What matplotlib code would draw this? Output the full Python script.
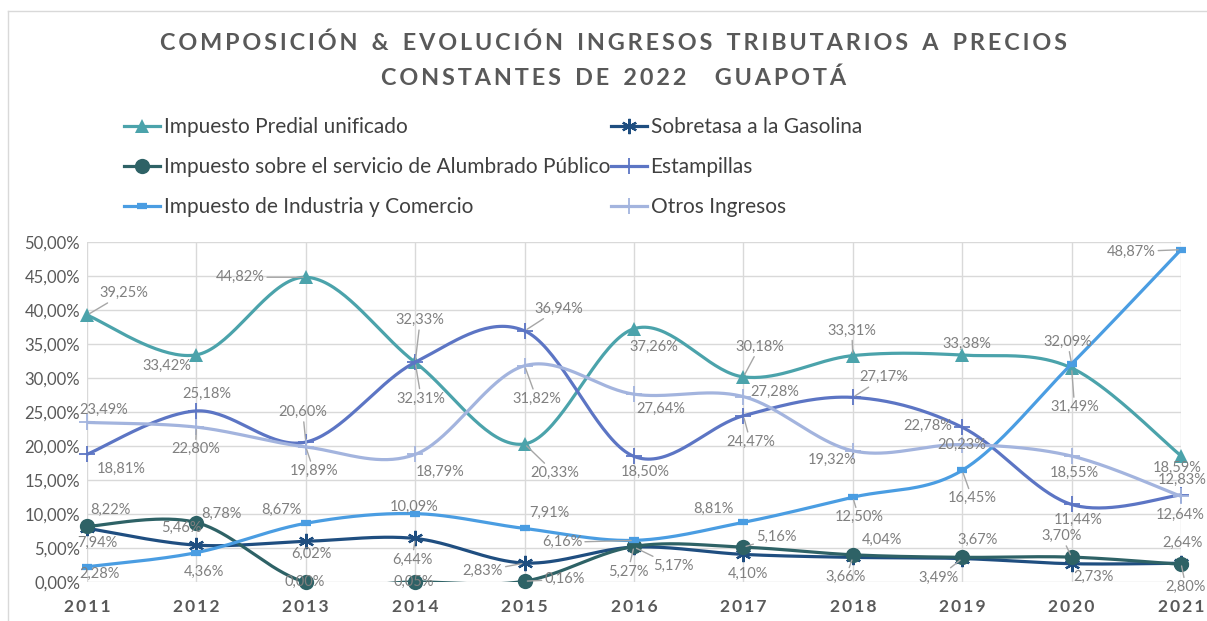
import numpy as np
import matplotlib
matplotlib.use('Agg')
import matplotlib.pyplot as plt
from matplotlib.lines import Line2D

plt.rcParams['font.family'] = ['Lato', 'DejaVu Sans']

# data
years = [2011, 2012, 2013, 2014, 2015, 2016, 2017, 2018, 2019, 2020, 2021]
predial = [39.25, 33.42, 44.82, 32.31, 20.33, 37.26, 30.18, 33.31, 33.38, 31.49, 18.59]
sobretasa = [7.94, 5.46, 6.02, 6.44, 2.83, 5.17, 4.10, 3.66, 3.49, 2.73, 2.80]
alumbrado = [8.22, 8.78, 0.00, 0.05, 0.16, 5.27, 5.16, 4.04, 3.67, 3.70, 2.64]
estampillas = [18.81, 25.18, 20.60, 32.33, 36.94, 18.50, 24.47, 27.17, 22.78, 11.44, 12.83]
ica = [2.28, 4.36, 8.67, 10.09, 7.91, 6.16, 8.81, 12.50, 16.45, 32.09, 48.87]
otros = [23.49, 22.80, 19.89, 18.79, 31.82, 27.64, 27.28, 19.32, 20.23, 18.55, 12.64]

names = ['Impuesto Predial unificado', 'Sobretasa a la Gasolina',
         'Impuesto sobre el servicio de Alumbrado Público', 'Estampillas',
         'Impuesto de Industria y Comercio', 'Otros Ingresos']
yticks = [0, 5, 10, 15, 20, 25, 30, 35, 40, 45, 50]

# label offsets (pixels, screen: +x right, +y down) and whether a leader line is drawn
lbl_off = {
    'predial': [(37, -22), (-30, 11), (-66, 0), (6, 36), (30, 29), (20, 18), (16, -30),
                (-1, -25), (5, -11), (3, 39), (-4, 12)],
    'sobretasa': [(10, 15), (-15, -17), (6, 13), (-3, 21), (-42, 8), (39, 19), (5, 19),
                  (-7, 20), (-24, 19), (22, 13), (5, 24)],
    'alumbrado': [(23, -16), (25, -9), (-1, 0), (-1, 0), (40, -2), (-6, 25), (33, -10),
                  (29, -15), (15, -17), (-10, -21), (2, -21)],
    'estampillas': [(34, 15), (10, -17), (-3, -30), (5, -42), (34, -22), (11, 16), (7, 26),
                    (31, -20), (-34, -1), (7, 15), (1, -15)],
    'ica': [(13, 7), (8, 19), (-24, -13), (-1, -7), (25, -16), (-72, 2), (-30, -13),
            (6, 20), (10, 28), (-4, -22), (-50, 2)],
    'otros': [(17, -13), (-1, 22), (8, 24), (25, 17), (12, 33), (27, 15), (31, -5),
              (-21, 9), (0, 0), (3, 17), (-1, 19)],
}
leader = {
    'predial': [1, 0, 1, 1, 1, 0, 1, 1, 0, 1, 0],
    'sobretasa': [0, 0, 0, 1, 1, 1, 0, 1, 1, 0, 1],
    'alumbrado': [0, 0, 0, 0, 1, 1, 1, 0, 0, 1, 0],
    'estampillas': [0, 0, 1, 1, 1, 0, 1, 1, 0, 0, 0],
    'ica': [0, 0, 0, 0, 0, 1, 0, 1, 1, 1, 1],
    'otros': [0, 1, 1, 0, 1, 0, 0, 0, 0, 0, 0],
}


def smooth(x, y, n=40):
    # Excel-like smoothed line: cubic bezier with catmull-rom control points
    p = np.column_stack([x, y]).astype(float)
    ext = np.vstack([p[0], p, p[-1]])
    out = []
    t = np.linspace(0, 1, n)[:, None]
    for i in range(len(p) - 1):
        p0, p1, p2, p3 = ext[i], ext[i + 1], ext[i + 2], ext[i + 3]
        c1 = p1 + (p2 - p0) / 6.0
        c2 = p2 - (p3 - p1) / 6.0
        seg = ((1 - t) ** 3) * p1 + 3 * ((1 - t) ** 2) * t * c1 + 3 * (1 - t) * t ** 2 * c2 + t ** 3 * p2
        out.append(seg if i == 0 else seg[1:])
    out = np.vstack(out)
    return out[:, 0], out[:, 1]


def spaced(s, gap='\u2009', wgap=' \u2009'):
    return wgap.join(gap.join(w) for w in s.split(' '))


W, H = 1207, 621
fig = plt.figure(figsize=(W / 100, H / 100), dpi=100)
ax = fig.add_axes([87 / W, 1 - 582.3 / H, (1181 - 87) / W, (582.3 - 242) / H])

# chart border (only top/left visible in the reference)
fig.add_artist(Line2D([8 / W, 8 / W], [0, 1 - 11 / H], color='#d9d9d9', lw=1))
fig.add_artist(Line2D([8 / W, 1], [1 - 11 / H, 1 - 11 / H], color='#d9d9d9', lw=1))

series = [
    ('predial', predial, '#4ba3ab', dict(marker='^', ms=10, mew=0)),
    ('sobretasa', sobretasa, '#1f4e80', dict(marker=(6, 2, 0), ms=11, mew=1.6)),
    ('alumbrado', alumbrado, '#2e6266', dict(marker='o', ms=11, mew=0)),
    ('estampillas', estampillas, '#5c75c4', dict(marker='+', ms=11, mew=1.3)),
    ('ica', ica, '#4a9de2', dict(marker='_', ms=7, mew=4.5)),
    ('otros', otros, '#a3b4de', dict(marker='+', ms=11, mew=1.3)),
]

handles = {}
for i, (key, vals, col, mk) in enumerate(series):
    sx, sy = smooth(years, vals)
    ax.plot(sx, sy, color=col, lw=2.3, solid_capstyle='round', zorder=3 + i)
    ax.plot(years, vals, ls='none', color=col, mec=col, zorder=3 + i, clip_on=False, **mk)
    handles[key] = Line2D([], [], color=col, lw=2.3, mec=col, **mk)

# data labels
for key, vals, col, mk in series:
    for j, (yr, v) in enumerate(zip(years, vals)):
        dx, dy = lbl_off[key][j]
        txt = f'{v:.2f}'.replace('.', ',') + '%'
        ap = None
        if leader[key][j]:
            ap = dict(arrowstyle='-', color='#a6a6a6', lw=1, shrinkA=0, shrinkB=2)
        ax.annotate(txt, xy=(yr, v), xytext=(dx * 0.72, -dy * 0.72), textcoords='offset points',
                    ha='center', va='center', fontsize=10.5, color='#808080', zorder=20,
                    arrowprops=ap, annotation_clip=False)

ax.set_xlim(2011, 2021)
ax.set_ylim(0, 50)
ax.set_xticks(years)
ax.set_xticklabels([spaced(str(y)) for y in years], fontsize=12.5, fontweight='bold', color='#595959')
ax.set_yticks(yticks)
ax.set_yticklabels([f'{t:.2f}'.replace('.', ',') + '%' for t in yticks], fontsize=12, color='#595959')
ax.tick_params(axis='both', length=0)
ax.tick_params(axis='y', pad=5)
ax.tick_params(axis='x', pad=12)
ax.grid(True, color='#d9d9d9', lw=1)
ax.set_axisbelow(True)
for s in ax.spines.values():
    s.set_visible(False)

# title
fig.text(0.508, 1 - 43 / H, spaced('COMPOSICIÓN & EVOLUCIÓN INGRESOS TRIBUTARIOS A PRECIOS', wgap=' \u2009 '),
         ha='center', va='center', fontsize=16.8, fontweight='bold', color='#595959')
fig.text(0.508, 1 - 78 / H, spaced('CONSTANTES DE 2022  GUAPOTÁ', wgap=' \u2009 '),
         ha='center', va='center', fontsize=16.8, fontweight='bold', color='#595959')

# legend (column-wise order)
order = ['predial', 'alumbrado', 'ica', 'sobretasa', 'estampillas', 'otros']
labels = [names[[k for k, *_ in series].index(k)] for k in order]
fig.legend([handles[k] for k in order], labels, ncol=2, loc='upper left',
           bbox_to_anchor=(124 / W, 1 - 117 / H), frameon=False, fontsize=15,
           labelcolor='#404040', handlelength=1.75, handletextpad=0.15,
           columnspacing=0.05, labelspacing=0.97, borderaxespad=0, borderpad=0)

fig.savefig('out.png', dpi=100)
